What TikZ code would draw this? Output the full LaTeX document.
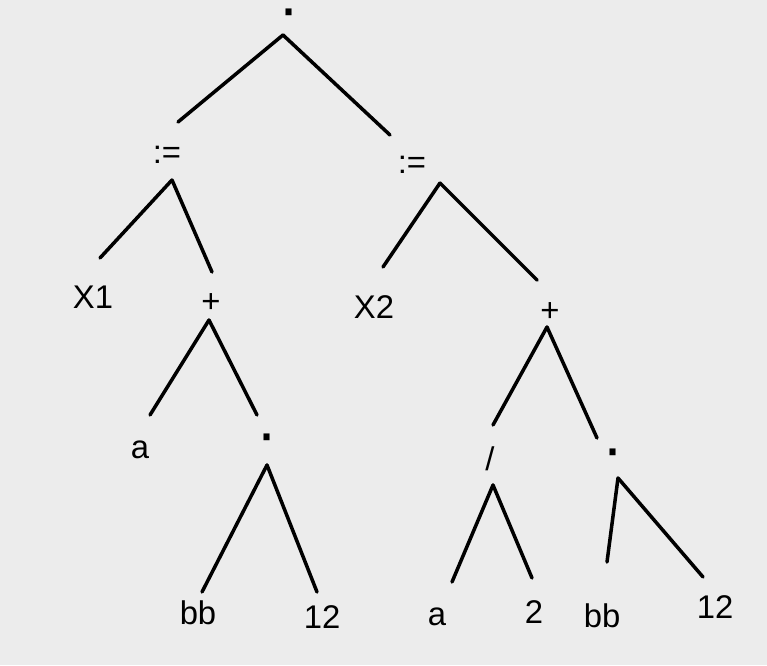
\documentclass[tikz,border=0pt]{standalone}
\usepackage{fontspec}
\setmainfont{Liberation Sans}
\definecolor{paper}{RGB}{236,236,236}
\tikzset{
  lbl/.style={inner sep=0pt, text height=20pt, text depth=0pt, font=\fontsize{28}{30}\selectfont},
  dotlbl/.style={inner sep=0pt, text height=28.4pt, text depth=-18.4pt, font=\fontsize{54}{56}\selectfont},
  edge/.style={line width=3pt, line cap=round}
}
\begin{document}
\begin{tikzpicture}[x=0.03cm, y=-0.03cm]
\fill[paper] (0,0) rectangle (767,665);
\useasboundingbox (0,0) rectangle (767,665);
% nodes
\node[dotlbl] (root) at (289,13) {·};
\node[lbl] (asL) at (167,152) {:=};
\node[lbl] (asR) at (412,162) {:=};
\node[lbl] (x1) at (93,297) {X1};
\node[lbl] (plL) at (211,301) {+};
\node[lbl] (x2) at (374,307) {X2};
\node[lbl] (plR) at (550,310) {+};
\node[lbl] (aL) at (140,447) {a};
\node[dotlbl] (mulL) at (267,438) {·};
\node[lbl] (bbL) at (198,613) {bb};
\node[lbl] (twL) at (322,617) {12};
\node[lbl] (div) at (490,459) {/};
\node[dotlbl] (mulR) at (613,453) {·};
\node[lbl] (aR) at (437,614) {a};
\node[lbl] (two) at (534,612) {2};
\node[lbl] (bbR) at (602,616) {bb};
\node[lbl] (twR) at (715,607) {12};
% connectors
\draw[edge] ([shift={(-6,22)}]root.center) -- ([shift={(11,-30)}]asL.center);
\draw[edge] ([shift={(-6,22)}]root.center) -- ([shift={(-22,-27)}]asR.center);
\draw[edge] ([shift={(5,28)}]asL.center) -- ([shift={(7,-39)}]x1.center);
\draw[edge] ([shift={(5,28)}]asL.center) -- ([shift={(1,-29)}]plL.center);
\draw[edge] ([shift={(28,21)}]asR.center) -- ([shift={(9,-40)}]x2.center);
\draw[edge] ([shift={(28,21)}]asR.center) -- ([shift={(-13,-30)}]plR.center);
\draw[edge] ([shift={(-2,19)}]plL.center) -- ([shift={(10,-32)}]aL.center);
\draw[edge] ([shift={(-2,19)}]plL.center) -- ([shift={(-10,-23)}]mulL.center);
\draw[edge] ([shift={(0,27)}]mulL.center) -- ([shift={(4,-21)}]bbL.center);
\draw[edge] ([shift={(0,27)}]mulL.center) -- ([shift={(-5,-25)}]twL.center);
\draw[edge] ([shift={(-3,17)}]plR.center) -- ([shift={(3,-34)}]div.center);
\draw[edge] ([shift={(-3,17)}]plR.center) -- ([shift={(-16,-15)}]mulR.center);
\draw[edge] ([shift={(3,26)}]div.center) -- ([shift={(15,-32)}]aR.center);
\draw[edge] ([shift={(3,26)}]div.center) -- ([shift={(-2,-34)}]two.center);
\draw[edge] ([shift={(5,25)}]mulR.center) -- ([shift={(5,-54)}]bbR.center);
\draw[edge] ([shift={(5,25)}]mulR.center) -- ([shift={(-12,-30)}]twR.center);
\end{tikzpicture}
\end{document}
